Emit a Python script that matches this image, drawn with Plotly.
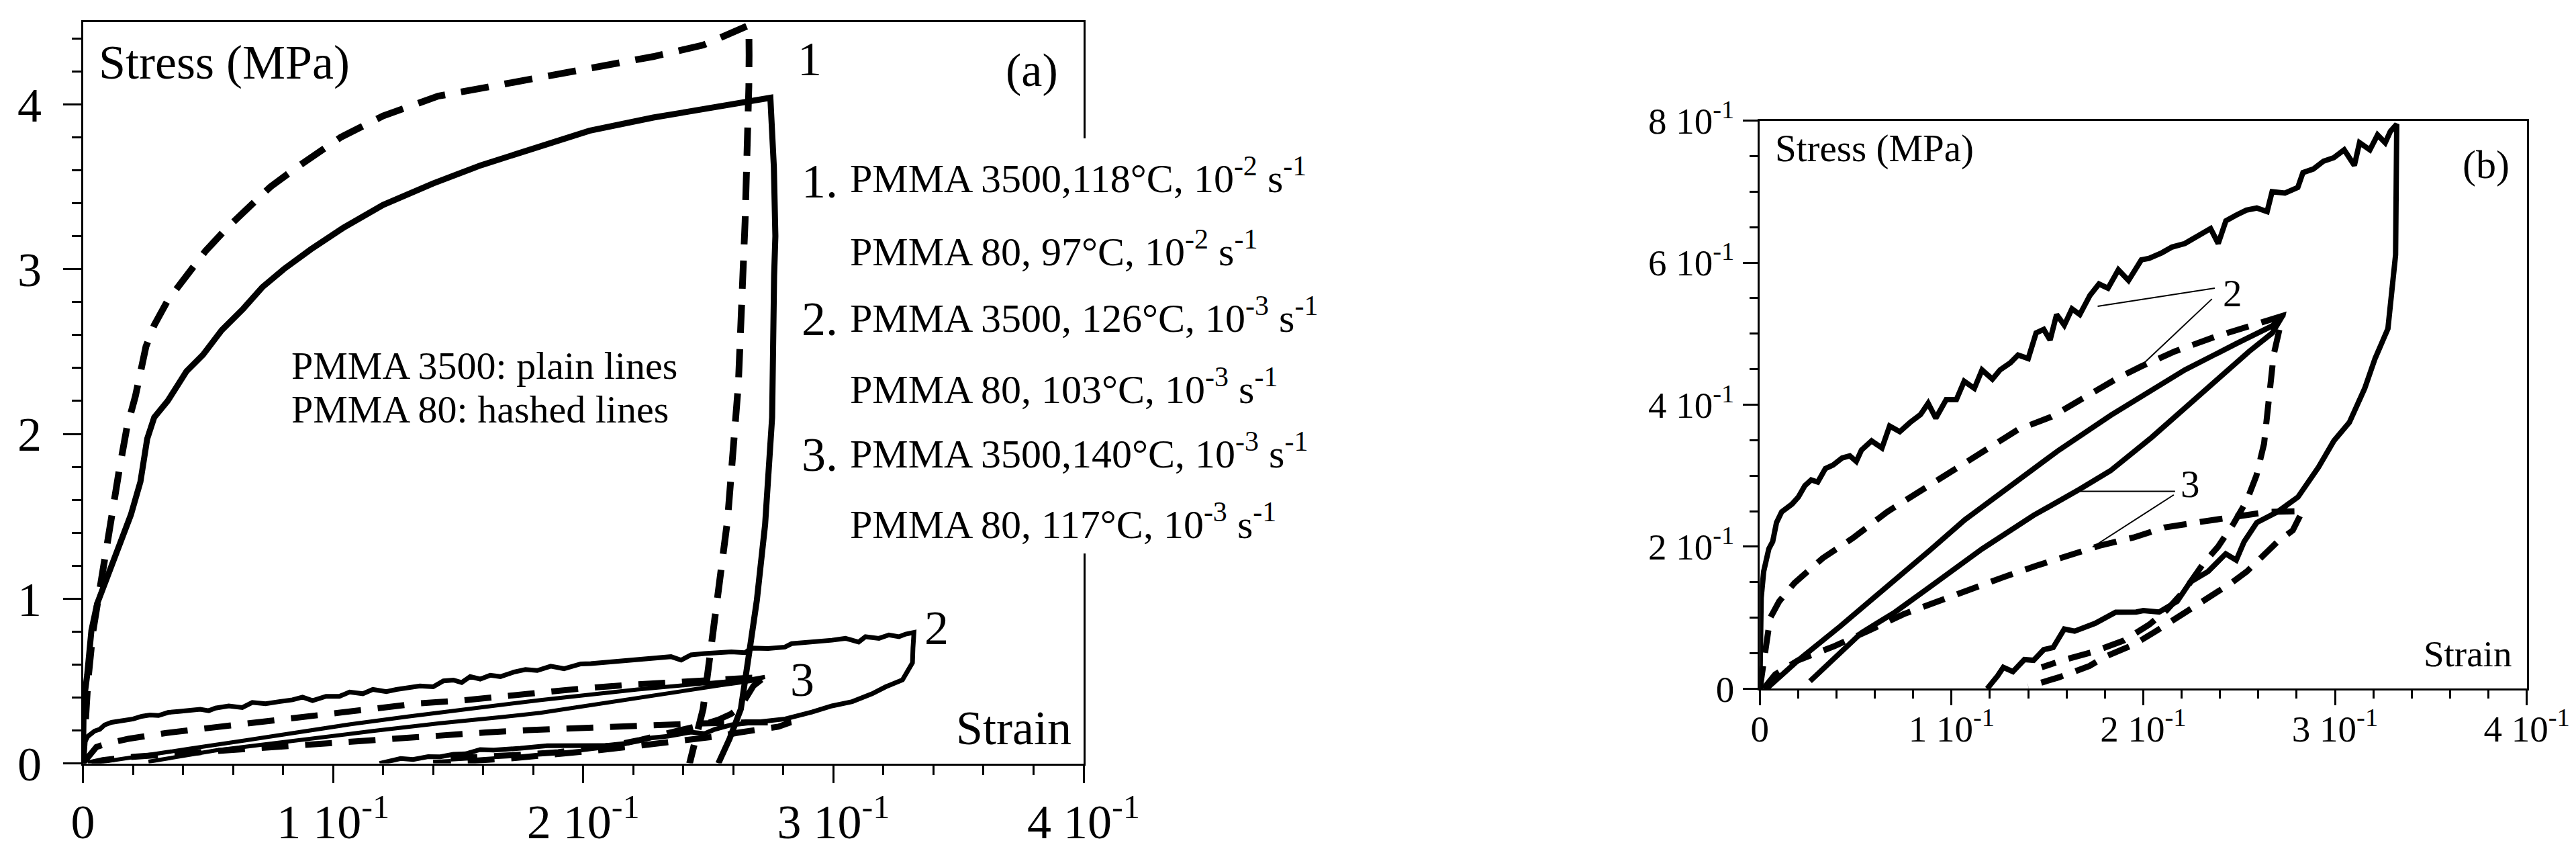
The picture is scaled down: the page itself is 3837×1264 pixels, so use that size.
import plotly.graph_objects as go

W, H = 3837, 1264
FONT = "'Liberation Serif', 'Times New Roman', Times, serif"

# ---------------- data ----------------
# Curve 1 (panel a only): PMMA 3500 118C (solid), PMMA 80 97C (dashed)
c1_solid_strain = [0, 0.0003, 0.0017, 0.0034, 0.0057, 0.0084, 0.011, 0.0146, 0.0192, 0.023, 0.0257,
                   0.0285, 0.0339, 0.0414, 0.048, 0.0555, 0.0641, 0.0717, 0.0803, 0.0911, 0.104,
                   0.120, 0.140, 0.159, 0.179, 0.2025, 0.228, 0.250, 0.265, 0.2748,
                   0.2762, 0.2768, 0.2763, 0.2755, 0.2727, 0.2694, 0.2662, 0.263, 0.2585, 0.254]
c1_solid_stress = [0, 0.37, 0.535, 0.807, 0.97, 1.08, 1.19, 1.32, 1.51, 1.71, 1.97,
                   2.10, 2.20, 2.38, 2.48, 2.63, 2.76, 2.89, 3.0, 3.12, 3.25,
                   3.39, 3.52, 3.63, 3.73, 3.84, 3.92, 3.98, 4.02, 4.04,
                   3.62, 3.2, 2.96, 2.10, 1.45, 0.99, 0.657, 0.33, 0.15, 0.0]
c1_dash_strain = [0, 0.002, 0.004, 0.0069, 0.0095, 0.0112, 0.0144, 0.0176, 0.021, 0.0252, 0.0285,
                  0.0339, 0.0414, 0.049, 0.0576, 0.066, 0.075, 0.0857, 0.103, 0.120, 0.142,
                  0.1636, 0.185, 0.2068, 0.228, 0.248, 0.2608, 0.2662,
                  0.2663, 0.2662, 0.2647, 0.262, 0.2577, 0.2521, 0.2479, 0.2425]
c1_dash_stress = [0, 0.5, 0.8, 1.085, 1.3, 1.45, 1.77, 2.04, 2.23, 2.53, 2.66,
                  2.81, 2.96, 3.11, 3.25, 3.37, 3.50, 3.62, 3.80, 3.93, 4.05,
                  4.11, 4.17, 4.23, 4.29, 4.36, 4.44, 4.48,
                  4.3, 4.11, 3.29, 2.30, 1.48, 0.82, 0.33, 0.0]

# Curve 2: PMMA 3500 126C (solid), PMMA 80 103C (dashed)
c2_solid_strain = [0, 0.0007, 0.002, 0.0047, 0.0067, 0.0087, 0.0114, 0.0141, 0.0168, 0.0201, 0.0235,
                   0.0268, 0.0302, 0.0342, 0.0382, 0.0429, 0.0469, 0.0503, 0.053, 0.0583, 0.0637,
                   0.0677, 0.073, 0.0784, 0.0838, 0.0878, 0.0918, 0.0972, 0.1025, 0.1066, 0.1119,
                   0.1159, 0.1213, 0.1253, 0.1307, 0.1347, 0.14, 0.1441, 0.1481, 0.1514, 0.1548,
                   0.1588, 0.1628, 0.1669, 0.1722, 0.1769, 0.1816, 0.187, 0.1923, 0.199, 0.203,
                   0.2097, 0.215, 0.2217, 0.2284, 0.2351, 0.2391, 0.2431, 0.2485, 0.2538, 0.2592,
                   0.2646, 0.2672, 0.2739, 0.2806, 0.2833, 0.2887, 0.294, 0.2994, 0.3048, 0.3101,
                   0.3128, 0.3182, 0.3222, 0.3262, 0.3289, 0.3322,
                   0.3318, 0.3316, 0.3276, 0.3209, 0.3155, 0.3075, 0.2994, 0.2914, 0.2807, 0.270,
                   0.2592, 0.2526, 0.2485, 0.243, 0.2338, 0.2244, 0.2177, 0.2083, 0.2, 0.1963,
                   0.1856, 0.1749, 0.1642, 0.1588, 0.153, 0.1481, 0.1428, 0.138, 0.132, 0.127,
                   0.124, 0.1186]
c2_solid_stress = [0, 0.128, 0.165, 0.197, 0.207, 0.234, 0.249, 0.255, 0.26, 0.27, 0.286,
                   0.294, 0.291, 0.31, 0.315, 0.325, 0.328, 0.32, 0.336, 0.349, 0.339,
                   0.37, 0.362, 0.375, 0.386, 0.402, 0.381, 0.407, 0.407, 0.433, 0.423,
                   0.449, 0.436, 0.449, 0.459, 0.47, 0.465, 0.501, 0.506, 0.491, 0.527,
                   0.512, 0.535, 0.527, 0.554, 0.57, 0.564, 0.59, 0.575, 0.604, 0.606,
                   0.614, 0.622, 0.627, 0.638, 0.648, 0.627, 0.659, 0.667, 0.674, 0.677,
                   0.672, 0.700, 0.698, 0.706, 0.727, 0.732, 0.743, 0.748, 0.759, 0.737,
                   0.769, 0.759, 0.78, 0.769, 0.785, 0.795,
                   0.70, 0.611, 0.507, 0.465, 0.423, 0.375, 0.349, 0.312, 0.270, 0.249,
                   0.234, 0.207, 0.181, 0.19, 0.165, 0.15, 0.123, 0.108, 0.11, 0.108,
                   0.1076, 0.092, 0.081, 0.084, 0.058, 0.055, 0.04, 0.041, 0.024, 0.03,
                   0.018, 0.0]
c2_dash_strain = [0.0, 0.003, 0.0054, 0.0101, 0.0181, 0.0329, 0.049, 0.0664, 0.085, 0.1012, 0.1173,
                  0.1347, 0.1521, 0.1682, 0.187, 0.199, 0.2164, 0.2378, 0.2566, 0.2726,
                  0.268, 0.2655, 0.263, 0.259, 0.254, 0.247, 0.239, 0.231, 0.222, 0.212,
                  0.203, 0.19, 0.174, 0.158, 0.147]
c2_dash_stress = [0.0, 0.06, 0.0996, 0.123, 0.149, 0.184, 0.213, 0.249, 0.281, 0.307, 0.336,
                  0.365, 0.383, 0.409, 0.438, 0.454, 0.475, 0.496, 0.512, 0.525,
                  0.47, 0.40, 0.345, 0.30, 0.265, 0.232, 0.2, 0.175, 0.14, 0.11,
                  0.09, 0.068, 0.052, 0.04, 0.03]

# Curve 3: PMMA 3500 140C (solid), PMMA 80 117C (dashed)
c3_solid_strain = [0.0035, 0.02, 0.042, 0.065, 0.0887, 0.107, 0.13, 0.156, 0.183, 0.2044, 0.2217,
                   0.2485, 0.2673, 0.2726,
                   0.2673, 0.2552, 0.2418, 0.2217, 0.2044, 0.1829, 0.1669, 0.1427, 0.116, 0.0891,
                   0.0704, 0.053, 0.0262]
c3_solid_stress = [0.0, 0.04, 0.088, 0.14, 0.195, 0.238, 0.285, 0.336, 0.385, 0.42, 0.449,
                   0.486, 0.511, 0.525,
                   0.501, 0.475, 0.443, 0.396, 0.354, 0.307, 0.281, 0.244, 0.197, 0.144,
                   0.1076, 0.0787, 0.0105]
c3_dash_strain = [0.002, 0.008, 0.02, 0.039, 0.057, 0.075, 0.093, 0.11, 0.127, 0.144, 0.161,
                  0.178, 0.195, 0.211, 0.23, 0.248, 0.265, 0.283,
                  0.278, 0.27, 0.262, 0.254, 0.246, 0.238, 0.229, 0.218, 0.206, 0.195,
                  0.18, 0.172, 0.156, 0.14]
c3_dash_stress = [0.0, 0.02, 0.04, 0.06, 0.082, 0.105, 0.123, 0.141, 0.157, 0.173, 0.188,
                  0.202, 0.213, 0.227, 0.235, 0.243, 0.249, 0.25,
                  0.223, 0.207, 0.187, 0.165, 0.149, 0.135, 0.118, 0.1, 0.08, 0.062,
                  0.045, 0.032, 0.016, 0.003]

# tick labels
a_xticks = [0, 0.1, 0.2, 0.3, 0.4]
a_xticktext = ["0", "1 10<sup>-1</sup>", "2 10<sup>-1</sup>", "3 10<sup>-1</sup>", "4 10<sup>-1</sup>"]
a_yticks = [0, 1, 2, 3, 4]
a_yticktext = ["0", "1", "2", "3", "4"]
b_xticks = a_xticks
b_xticktext = a_xticktext
b_yticks = [0, 0.2, 0.4, 0.6, 0.8]
b_yticktext = ["0", "2 10<sup>-1</sup>", "4 10<sup>-1</sup>", "6 10<sup>-1</sup>", "8 10<sup>-1</sup>"]

legend_lines = [
    ("1.", "PMMA 3500,118°C, 10<sup>-2</sup> s<sup>-1</sup>"),
    ("", "PMMA 80, 97°C, 10<sup>-2</sup> s<sup>-1</sup>"),
    ("2.", "PMMA 3500, 126°C, 10<sup>-3</sup> s<sup>-1</sup>"),
    ("", "PMMA 80, 103°C, 10<sup>-3</sup> s<sup>-1</sup>"),
    ("3.", "PMMA 3500,140°C, 10<sup>-3</sup> s<sup>-1</sup>"),
    ("", "PMMA 80, 117°C, 10<sup>-3</sup> s<sup>-1</sup>"),
]

# leader lines for labels in panel (b): (strain0, stress0, strain1, stress1)
b_leaders = [
    (0.2373, 0.5641, 0.1762, 0.5386),
    (0.2358, 0.5489, 0.1991, 0.4553),
    (0.2166, 0.278, 0.1669, 0.278),
    (0.2159, 0.273, 0.1736, 0.1994),
]

# ---------------- figure ----------------
fig = go.Figure()

def add(xs, ys, xa, ya, width, dash=None):
    fig.add_trace(go.Scatter(x=xs, y=ys, mode="lines", xaxis=xa, yaxis=ya,
                             line=dict(color="black", width=width, dash=dash or "solid"),
                             hoverinfo="skip", showlegend=False))

# panel a
add(c1_solid_strain, c1_solid_stress, "x", "y", 9)
add(c1_dash_strain, c1_dash_stress, "x", "y", 10, "42px,24px")
add(c2_solid_strain, c2_solid_stress, "x", "y", 7)
add(c2_dash_strain, c2_dash_stress, "x", "y", 9, "40px,25px")
add(c3_solid_strain, c3_solid_stress, "x", "y", 6)
add(c3_dash_strain, c3_dash_stress, "x", "y", 9, "40px,25px")
# panel b
add(c2_solid_strain, c2_solid_stress, "x2", "y2", 8)
add(c2_dash_strain, c2_dash_stress, "x2", "y2", 9, "34px,20px")
add(c3_solid_strain, c3_solid_stress, "x2", "y2", 8)
add(c3_dash_strain, c3_dash_stress, "x2", "y2", 9, "34px,20px")

def px_x(p):
    return p / W

def px_y(p):
    return 1 - p / H

common = dict(showgrid=False, zeroline=False, showline=True, linecolor="black", linewidth=3,
              mirror=True, ticks="outside", tickcolor="black", tickwidth=3, tickmode="array",
              automargin=False)

fig.update_layout(
    template="none",
    width=W, height=H, margin=dict(l=0, r=0, t=0, b=0, pad=0, autoexpand=False),
    paper_bgcolor="white", plot_bgcolor="white", showlegend=False,
    font=dict(family=FONT, color="black"),
    xaxis=dict(domain=[px_x(115.5), px_x(1606)], range=[0, 0.4], anchor="y",
               tickvals=a_xticks, ticktext=a_xticktext, ticklen=26,
               tickfont=dict(family=FONT, size=72, color="black"), ticklabelstandoff=-4,
               minor=dict(dtick=0.02, ticklen=14, tickwidth=3, ticks="outside", tickcolor="black"),
               **common),
    yaxis=dict(domain=[px_y(1128.6), px_y(24.75)], range=[0, 4.5], anchor="x",
               tickvals=a_yticks, ticktext=a_yticktext, ticklen=27,
               tickfont=dict(family=FONT, size=72, color="black"), ticklabelstandoff=17,
               minor=dict(dtick=0.2, ticklen=14, tickwidth=3, ticks="outside", tickcolor="black"),
               **common),
    xaxis2=dict(domain=[px_x(2613.3), px_x(3755.6)], range=[0, 0.4], anchor="y2",
                tickvals=b_xticks, ticktext=b_xticktext, ticklen=22,
                tickfont=dict(family=FONT, size=55, color="black"), ticklabelstandoff=-12,
                minor=dict(dtick=0.02, ticklen=12, tickwidth=3, ticks="outside", tickcolor="black"),
                **common),
    yaxis2=dict(domain=[px_y(1017.3), px_y(171.7)], range=[0, 0.8], anchor="x2",
                tickvals=b_yticks, ticktext=b_yticktext, ticklen=22,
                tickfont=dict(family=FONT, size=55, color="black"), ticklabelstandoff=2,
                minor=dict(dtick=0.05, ticklen=12, tickwidth=3, ticks="outside", tickcolor="black"),
                **common),
)

# gap in right border of panel a behind the legend text
fig.add_shape(type="rect", xref="paper", yref="paper",
              x0=px_x(1592), x1=px_x(1622), y0=px_y(816), y1=px_y(198),
              fillcolor="white", line=dict(width=0), layer="above")

# leader lines panel b
for (x0, y0, x1, y1) in b_leaders:
    fig.add_shape(type="line", xref="x2", yref="y2", x0=x0, y0=y0, x1=x1, y1=y1,
                  line=dict(color="black", width=2))

def text(x, y, s, size, xanchor="left"):
    fig.add_annotation(x=px_x(x), y=px_y(y), xref="paper", yref="paper", text=s,
                       showarrow=False, xanchor=xanchor, yanchor="middle",
                       font=dict(family=FONT, size=size, color="black"))

# panel a texts
text(137, 85, "Stress (MPa)", 72)
text(1570, 97, "(a)", 70, "right")
text(1198, 80, "1", 72, "center")
text(1387, 927, "2", 72, "center")
text(1187, 1004, "3", 72, "center")
text(1590, 1076, "Strain", 72, "right")
text(424, 536, "PMMA 3500: plain lines", 58)
text(424, 601, "PMMA 80: hashed lines", 58)

line_mid = [254, 363, 462, 567, 663, 768]
num_mid = [262, None, 467, None, 669, None]
for (num, s), ym, nm in zip(legend_lines, line_mid, num_mid):
    text(1256, ym, s, 60)
    if num:
        text(1184, nm, num, 72)

# panel b texts
text(2634, 213, "Stress (MPa)", 57)
text(3732, 237, "(b)", 60, "right")
text(3735, 965, "Strain", 55, "right")
text(3317, 429, "2", 57, "center")
text(3254, 712, "3", 57, "center")

fig.write_html("out.html")
